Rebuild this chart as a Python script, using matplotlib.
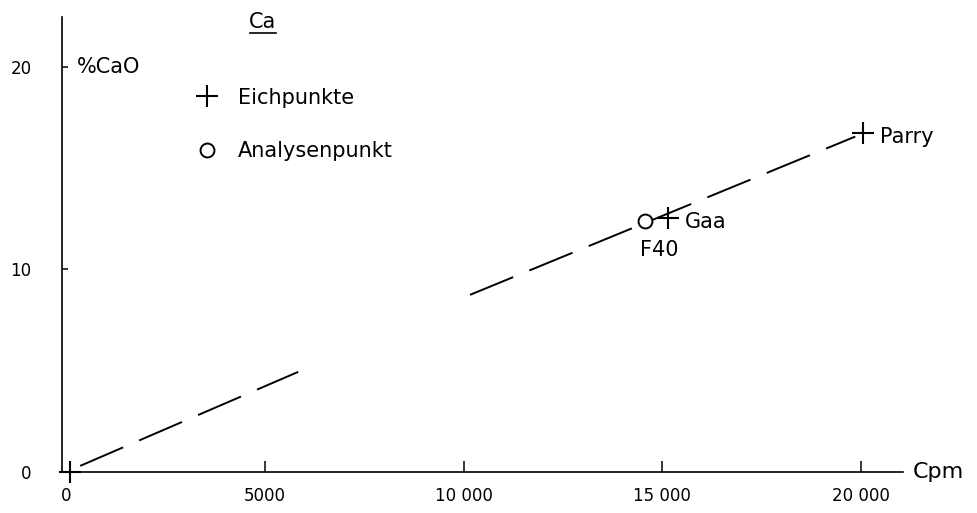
import matplotlib.pyplot as plt
from matplotlib.lines import Line2D

# calibration points (Eichpunkte) and analysed sample
eich_x = [100, 15150, 20050]
eich_y = [0, 12.55, 16.75]
eich_names = ['', 'Gaa', 'Parry']
probe_x = [14570]
probe_y = [12.4]
probe_names = ['F40']

# calibration line, drawn in two pieces
line1_x = [0, 5840]
line1_y = [0, 4.94]
line2_x = [10160, 19850]
line2_y = [8.74, 16.55]

xticks = [0, 5000, 10000, 15000, 20000]
xticklabels = ['0', '5000', '10 000', '15 000', '20 000']
yticks = [0, 10, 20]

plt.rcParams['font.family'] = 'DejaVu Sans'

fig = plt.figure(figsize=(9.77, 5.13), dpi=100)
ax = fig.add_axes([62/977, 41/513, 841/977, 455/513])

ax.plot(line1_x, line1_y, color='black', lw=1.4, linestyle=(25, (24, 9)),
        clip_on=False)
ax.plot(line2_x, line2_y, color='black', lw=1.4, linestyle=(0, (24, 9)),
        clip_on=False)

ax.plot(eich_x, eich_y, linestyle='none', marker='+', ms=16, mew=1.5,
        color='black', clip_on=False, label='Eichpunkte')
ax.plot(probe_x, probe_y, linestyle='none', marker='o', ms=10, mew=1.4,
        mfc='white', mec='black', clip_on=False, label='Analysenpunkt')

for x, y, name in zip(eich_x, eich_y, eich_names):
    if name:
        ax.annotate(name, (x, y), xytext=(12, -3), textcoords='offset points',
                    ha='left', va='center', fontsize=15)
for x, y, name in zip(probe_x, probe_y, probe_names):
    ax.annotate(name, (x, y), xytext=(-4, -21), textcoords='offset points',
                ha='left', va='center', fontsize=15)

ax.set_xlim(-100, 21050)
ax.set_ylim(0, 22.45)

for s in ['top', 'right']:
    ax.spines[s].set_visible(False)
for s in ['left', 'bottom']:
    ax.spines[s].set_linewidth(1.2)

ax.set_xticks(xticks)
ax.set_xticklabels(xticklabels)
ax.set_yticks(yticks)
ax.tick_params(axis='x', direction='in', length=8, width=1.1, pad=11, labelsize=12)
ax.tick_params(axis='y', direction='in', length=4.5, width=1.1, pad=22, labelsize=12)
# the zero point carries its own cross, so no tick mark there
ax.xaxis.get_major_ticks()[0].tick1line.set_visible(False)

ax.annotate('Cpm', (1, 0), xycoords='axes fraction', xytext=(7, 0),
            textcoords='offset points', ha='left', va='center', fontsize=16)
ax.annotate('%CaO', (0, 20), xycoords=('axes fraction', 'data'), xytext=(11, 0),
            textcoords='offset points', ha='left', va='center', fontsize=15)

# underlined element heading
fig.text(263/977, 1 - 22/513, 'Ca', ha='center', va='center', fontsize=15)
fig.add_artist(Line2D([250/977, 276/977], [1 - 33/513, 1 - 33/513],
                      color='black', lw=1.2))

ax.legend(loc='upper left', bbox_to_anchor=(0.16, 0.845), frameon=False,
          fontsize=15, handlelength=1.0, handletextpad=1.0, labelspacing=1.6,
          borderpad=0, borderaxespad=0)

fig.savefig('out.png', dpi=100)
